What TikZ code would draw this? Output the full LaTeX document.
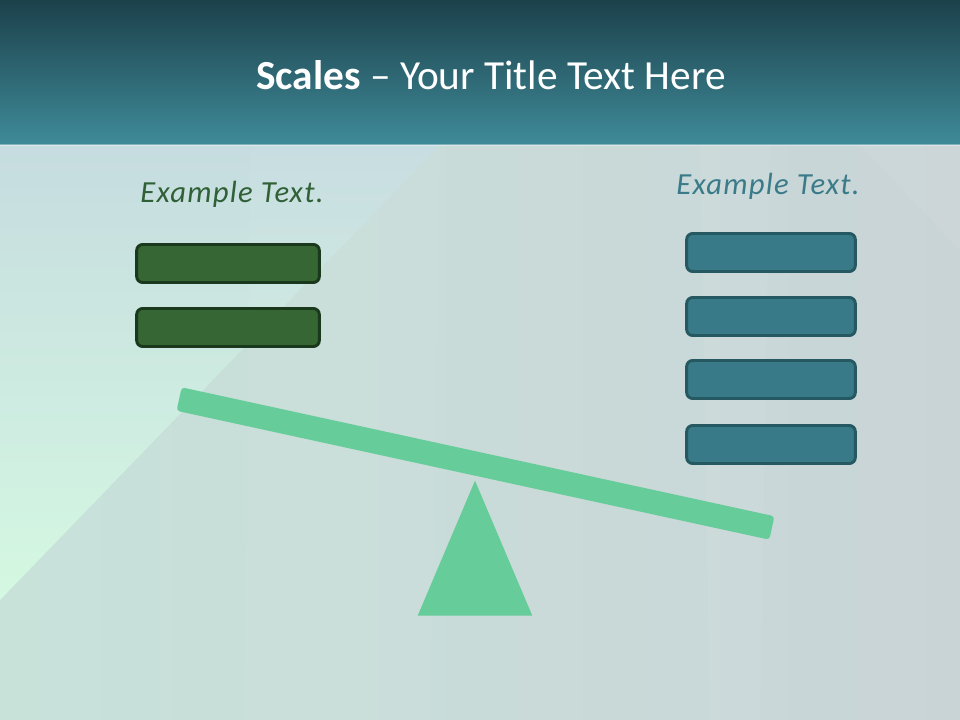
\documentclass[tikz,border=0pt]{standalone}
\usepackage{fontspec}
\setmainfont{Carlito}
\usetikzlibrary{shapes.geometric}
\definecolor{hdtop}{HTML}{1C414B}
\definecolor{hdbot}{HTML}{3F8B99}
\definecolor{bgleft}{HTML}{C8E2DA}
\definecolor{bgright}{HTML}{C9D4D7}
\definecolor{glowtop}{HTML}{C6DCE0}
\definecolor{glowbot}{HTML}{D4F8E1}
\definecolor{gfill}{HTML}{356633}
\definecolor{gline}{HTML}{1A381C}
\definecolor{tfill}{HTML}{387A87}
\definecolor{tline}{HTML}{265862}
\definecolor{gtext}{HTML}{2F6036}
\definecolor{ttext}{HTML}{3A7B89}
\definecolor{beamc}{HTML}{66CC99}
\tikzset{
  gbox/.style={draw=gline, fill=gfill, line width=2.2pt, rounded corners=4.5pt,
    minimum width=137pt, minimum height=28.5pt, inner sep=0pt},
  tbox/.style={draw=tline, fill=tfill, line width=2.2pt, rounded corners=4.5pt,
    minimum width=126.5pt, minimum height=28.5pt, inner sep=0pt},
  lbl/.style={font=\fontsize{23}{27}\selectfont\itshape\addfontfeature{LetterSpace=4}, inner sep=0pt},
}
\begin{document}
\begin{tikzpicture}[x=0.75pt,y=-0.75pt]
\useasboundingbox (0,0) rectangle (960,720);
% background
\shade[left color=bgleft, right color=bgright] (0,145) rectangle (960,720);
\shade[top color=glowtop, bottom color=glowbot] (0,145) -- (440,145) -- (0,600) -- cycle;
\fill[white, opacity=0.07] (700,145) -- (770,145) -- (760,720) -- (710,720) -- cycle;
\fill[white, opacity=0.05] (250,145) -- (440,145) -- (430,720) -- (245,720) -- cycle;
\fill[white, opacity=0.06] (860,145) -- (960,145) -- (960,250) -- cycle;
% header
\shade[top color=hdtop, bottom color=hdbot] (0,0) rectangle (960,145);
\draw[white, opacity=0.35, line width=0.8pt] (0,145) -- (960,145);
\node[text=white, font=\fontsize{31}{37}\selectfont, inner sep=0pt] (title) at (491,75)
  {\textbf{Scales} – Your Title Text Here};
% labels
\node[lbl, text=gtext] (ltext) at (232,194) {Example Text.};
\node[lbl, text=ttext] (rtext) at (768,186) {Example Text.};
% boxes
\node[gbox] (l1) at (228,263.5) {};
\node[gbox] (l2) at (228,327.5) {};
\node[tbox] (r1) at (771,252.5) {};
\node[tbox] (r2) at (771,316.5) {};
\node[tbox] (r3) at (771,379.5) {};
\node[tbox] (r4) at (771,444.5) {};
% scale
\node[fill=beamc, draw=none, isosceles triangle, isosceles triangle apex angle=46,
  shape border rotate=90, minimum height=101.25pt, inner sep=0pt, anchor=apex] (fulcrum) at (475,480) {};
\node[fill=beamc, rounded corners=2.5pt, minimum width=455pt, minimum height=18pt,
  inner sep=0pt, rotate=-12.27] (beam) at (475.5,463.5) {};
\end{tikzpicture}
\end{document}
